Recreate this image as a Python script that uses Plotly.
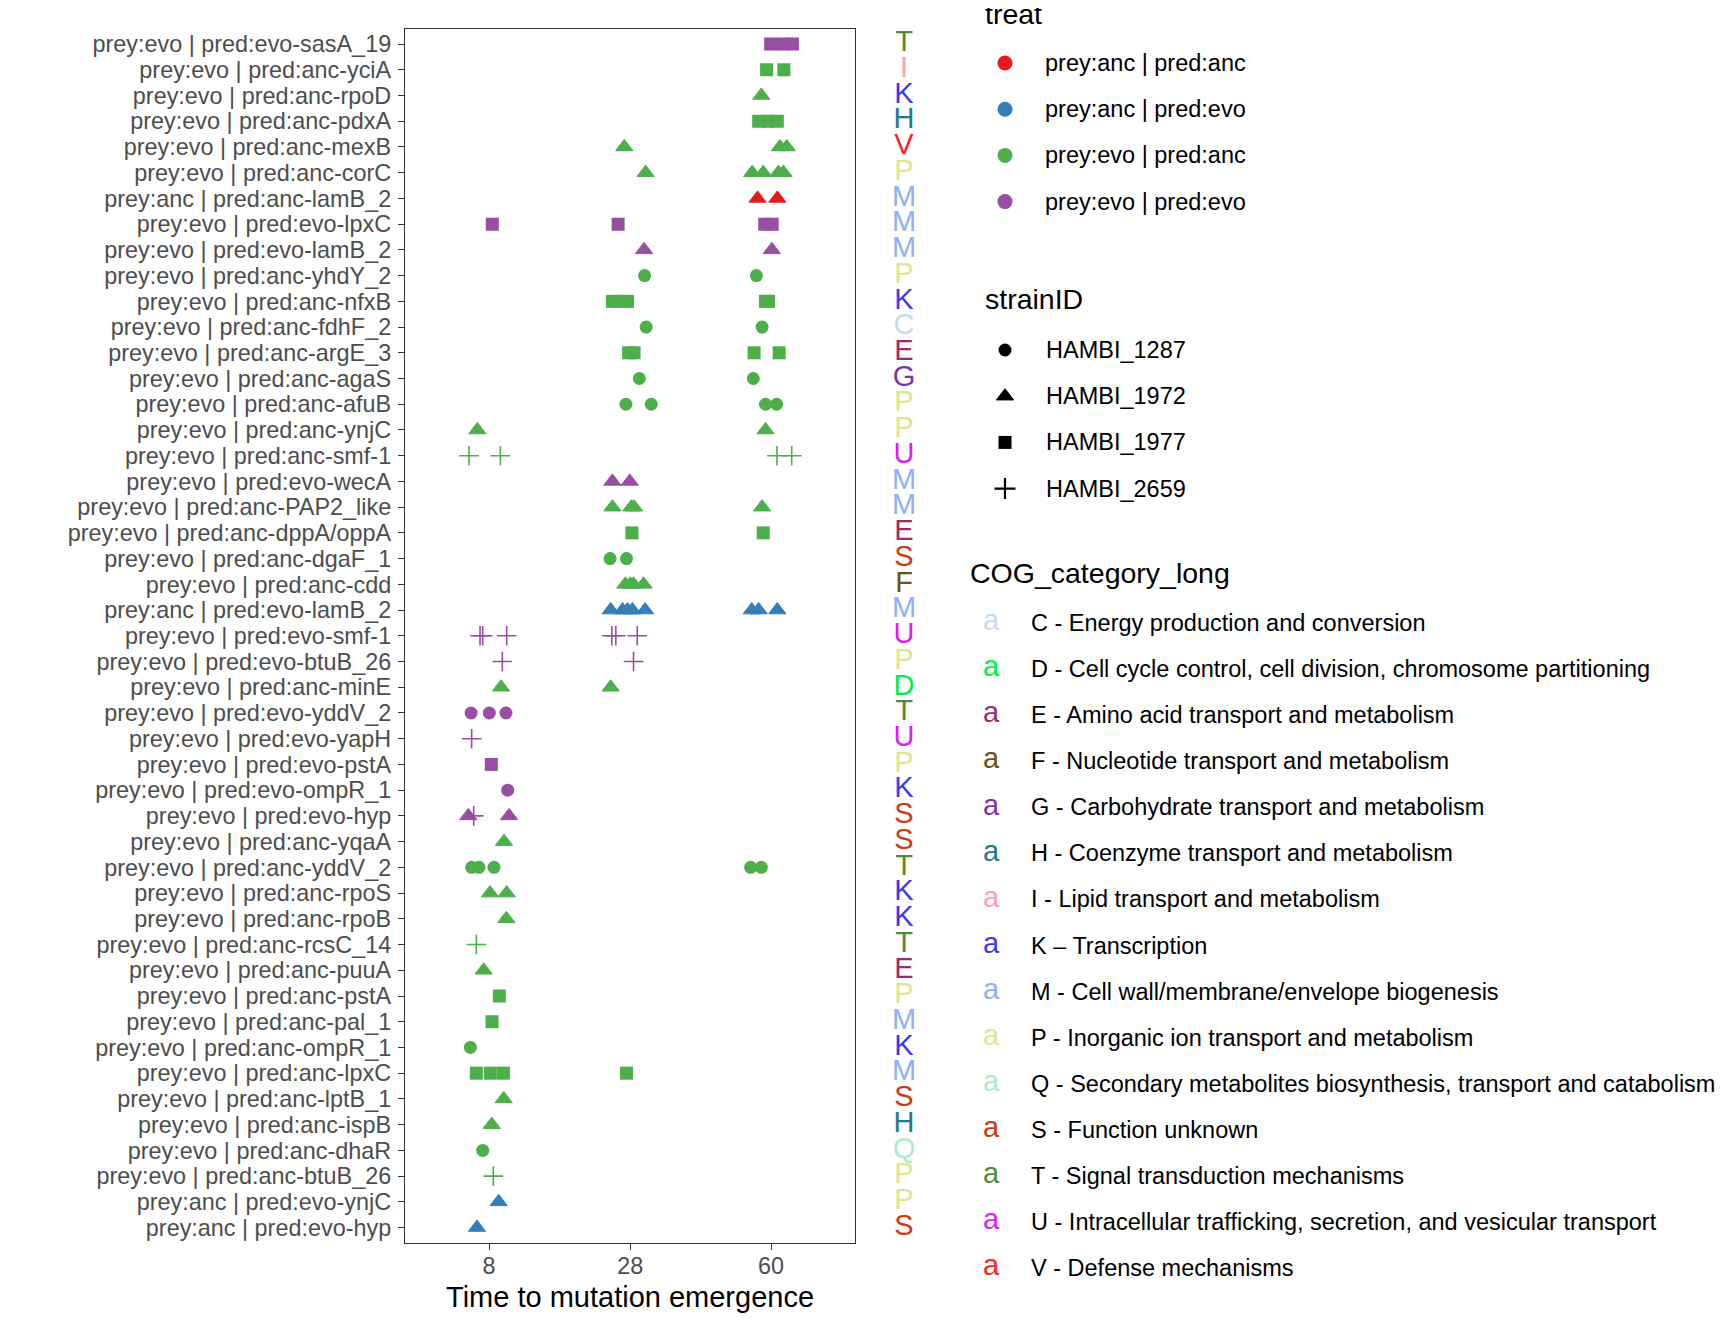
import numpy as np
import plotly.graph_objects as go

# ---------------- data (rows listed top to bottom) ----------------
labels = [
    "prey:evo | pred:evo-sasA_19", "prey:evo | pred:anc-yciA", "prey:evo | pred:anc-rpoD",
    "prey:evo | pred:anc-pdxA", "prey:evo | pred:anc-mexB", "prey:evo | pred:anc-corC",
    "prey:anc | pred:anc-lamB_2", "prey:evo | pred:evo-lpxC", "prey:evo | pred:evo-lamB_2",
    "prey:evo | pred:anc-yhdY_2", "prey:evo | pred:anc-nfxB", "prey:evo | pred:anc-fdhF_2",
    "prey:evo | pred:anc-argE_3", "prey:evo | pred:anc-agaS", "prey:evo | pred:anc-afuB",
    "prey:evo | pred:anc-ynjC", "prey:evo | pred:anc-smf-1", "prey:evo | pred:evo-wecA",
    "prey:evo | pred:anc-PAP2_like", "prey:evo | pred:anc-dppA/oppA", "prey:evo | pred:anc-dgaF_1",
    "prey:evo | pred:anc-cdd", "prey:anc | pred:evo-lamB_2", "prey:evo | pred:evo-smf-1",
    "prey:evo | pred:evo-btuB_26", "prey:evo | pred:anc-minE", "prey:evo | pred:evo-yddV_2",
    "prey:evo | pred:evo-yapH", "prey:evo | pred:evo-pstA", "prey:evo | pred:evo-ompR_1",
    "prey:evo | pred:evo-hyp", "prey:evo | pred:anc-yqaA", "prey:evo | pred:anc-yddV_2",
    "prey:evo | pred:anc-rpoS", "prey:evo | pred:anc-rpoB", "prey:evo | pred:anc-rcsC_14",
    "prey:evo | pred:anc-puuA", "prey:evo | pred:anc-pstA", "prey:evo | pred:anc-pal_1",
    "prey:evo | pred:anc-ompR_1", "prey:evo | pred:anc-lpxC", "prey:evo | pred:anc-lptB_1",
    "prey:evo | pred:anc-ispB", "prey:evo | pred:anc-dhaR", "prey:evo | pred:anc-btuB_26",
    "prey:anc | pred:evo-ynjC", "prey:anc | pred:evo-hyp",
]

cog = ["T", "I", "K", "H", "V", "P", "M", "M", "M", "P",
       "K", "C", "E", "G", "P", "P", "U", "M", "M", "E",
       "S", "F", "M", "U", "P", "D", "T", "U", "P", "K",
       "S", "S", "T", "K", "K", "T", "E", "P", "M", "K",
       "M", "S", "H", "Q", "P", "P", "S"]

# time to mutation emergence (jittered positions)
emergence_time = [
    [59.9, 62.9, 65.9], [58.8, 63.5], [57.4], [56.7, 59.2, 61.7], [26.9, 62.4, 64.3],
    [30.9, 55.0, 57.9, 62.0, 63.4], [56.4, 61.7], [8.33, 25.8, 58.3, 60.3], [30.6, 60.2],
    [30.7, 56.1], [24.8, 26.1, 27.5, 58.5, 59.3], [31.0, 57.6], [27.7, 28.7, 55.5, 62.2],
    [29.7, 55.3], [27.2, 32.0, 58.5, 61.5], [6.89, 58.5], [6.15, 9.16, 61.6, 65.7],
    [24.8, 27.9], [24.8, 28.2, 28.7, 57.6], [28.3, 57.9], [24.4, 27.3],
    [27.1, 28.0, 28.6, 30.5], [24.5, 26.6, 27.5, 28.4, 30.8, 54.9, 56.7, 61.7],
    [7.14, 7.39, 9.84, 24.7, 25.4, 29.3], [9.37, 28.6], [9.23, 24.5], [6.33, 8.03, 9.76],
    [6.38], [8.23], [9.95], [6.09, 6.56, 10.1], [9.55], [6.38, 7.04, 8.50, 54.6, 57.4],
    [8.10, 9.84], [9.80], [6.80], [7.48], [9.05], [8.30], [6.27], [6.80, 8.13, 9.48, 27.3],
    [9.51], [8.27], [7.39], [8.43], [8.98], [6.86],
]

A, B, C, D = "HAMBI_1287", "HAMBI_1972", "HAMBI_1977", "HAMBI_2659"
strain_ids = [
    [C, C, C], [C, C], [B], [C, C, C], [B, B, B],
    [B, B, B, B, B], [B, B], [C, C, C, C], [B, B],
    [A, A], [C, C, C, C, C], [A, A], [C, C, C, C],
    [A, A], [A, A, A, A], [B, B], [D, D, D, D],
    [B, B], [B, B, B, B], [C, C], [A, A],
    [B, B, B, B], [B, B, B, B, B, B, B, B],
    [D, D, D, D, D, D], [D, D], [B, B], [A, A, A],
    [D], [C], [A], [B, D, B], [B], [A, A, A, A, A],
    [B, B], [B], [D], [B], [C], [C], [A], [C, C, C, C],
    [B], [B], [A], [D], [B], [B],
]

treat_names = ["prey:anc | pred:anc", "prey:anc | pred:evo", "prey:evo | pred:anc", "prey:evo | pred:evo"]
treat_colors = ["#E41A1C", "#377EB8", "#4DAF4A", "#984EA3"]
strain_names = [A, B, C, D]

cog_names = [
    "C - Energy production and conversion",
    "D - Cell cycle control, cell division, chromosome partitioning",
    "E - Amino acid transport and metabolism",
    "F - Nucleotide transport and metabolism",
    "G - Carbohydrate transport and metabolism",
    "H - Coenzyme transport and metabolism",
    "I - Lipid transport and metabolism",
    "K \u2013 Transcription",
    "M - Cell wall/membrane/envelope biogenesis",
    "P - Inorganic ion transport and metabolism",
    "Q - Secondary metabolites biosynthesis, transport and catabolism",
    "S - Function unknown",
    "T - Signal transduction mechanisms",
    "U - Intracellular trafficking, secretion, and vesicular transport",
    "V - Defense mechanisms",
]
cog_colors = ["#C6DBEF", "#00F03C", "#9C2A6E", "#6B5315", "#7B35A8", "#1B7A8C", "#FF9EB0",
              "#3A3AF5", "#8DB0F7", "#DCE68F", "#AEEBC8", "#CF3A16", "#4F8A3C", "#E01BF5", "#FF1F26"]

x_ticks = [8, 28, 60]

# ---------------- styling / layout constants ----------------
OFF = 8                      # page body margin offset
W, H = 1728 - OFF, 1344 - OFF
PL, PR, PT, PB = 405, 855, 28.6, 1243   # panel edges in page pixels
FONT = "Liberation Sans"
AXC = "#333333"
TXC = "#4D4D4D"
symbols = {A: ("circle", 13, 0), B: ("triangle-up", 15, 1), C: ("square", 13, 0), D: ("cross-thin", 14, 1.6)}
cog_color_of = {n[0]: c for n, c in zip(cog_names, cog_colors)}

fig = go.Figure()

def treat_of(lab):
    return lab.split("-", 1)[0]

for tr, col in zip(treat_names, treat_colors):
    for st in strain_names:
        xs, ys = [], []
        for lab, ts, ss in zip(labels, emergence_time, strain_ids):
            if treat_of(lab) != tr:
                continue
            for t, s in zip(ts, ss):
                if s == st:
                    xs.append(np.sqrt(t))
                    ys.append(lab)
        if not xs:
            continue
        sym, size, lw = symbols[st]
        fig.add_trace(go.Scatter(
            x=xs, y=ys, mode="markers", xaxis="x", yaxis="y",
            marker=dict(symbol=sym, size=size, color=col, line=dict(color=col, width=lw)),
            hoverinfo="skip"))

# COG letter column
fig.add_trace(go.Scatter(
    x=[0.5] * len(labels), y=labels, mode="text", text=cog, xaxis="x3", yaxis="y3",
    textposition="middle center",
    textfont=dict(family=FONT, size=29, color=[cog_color_of[c] for c in cog]),
    hoverinfo="skip"))

# ---------------- manual legends (page pixel coordinates) ----------------
annotations = []
def ann(x, y, text, size, color="black", xanchor="left"):
    annotations.append(dict(x=x, y=y, xref="x2", yref="y2", text=text, showarrow=False,
                            xanchor=xanchor, yanchor="middle",
                            font=dict(family=FONT, size=size, color=color)))

STEP = 46.2
TITLE_X = 983
# treat
ann(TITLE_X, 14, "treat", 28.5)
ty = [63 + i * STEP for i in range(len(treat_names))]
fig.add_trace(go.Scatter(x=[1005] * len(ty), y=ty, mode="markers", xaxis="x2", yaxis="y2",
                         marker=dict(symbol="circle", size=15, color=treat_colors), hoverinfo="skip"))
for y, n in zip(ty, treat_names):
    ann(1043, y, n, 23.5)
# strainID
ann(TITLE_X, 299, "strainID", 28.5)
sy = [350 + i * STEP for i in range(len(strain_names))]
leg_sym = {A: ("circle", 13, 0), B: ("triangle-up", 15, 1), C: ("square", 13, 0), D: ("cross-thin", 15, 2.2)}
for y, n in zip(sy, strain_names):
    s, sz, lw = leg_sym[n]
    fig.add_trace(go.Scatter(x=[1005], y=[y], mode="markers", xaxis="x2", yaxis="y2",
                             marker=dict(symbol=s, size=sz, color="black", line=dict(color="black", width=lw)),
                             hoverinfo="skip"))
    ann(1044, y, n, 23.5)
# COG_category_long
ann(968, 573, "COG_category_long", 28.5)
cy = [623 + i * 46.08 for i in range(len(cog_names))]
fig.add_trace(go.Scatter(x=[991] * len(cy), y=cy, mode="text", text=["a"] * len(cy), xaxis="x2", yaxis="y2",
                         textposition="middle center",
                         textfont=dict(family=FONT, size=29, color=cog_colors), hoverinfo="skip"))
for y, n in zip(cy, cog_names):
    ann(1029, y, n, 23.5)

# x-axis title
ann((PL + PR) / 2, 1297, "Time to mutation emergence", 29, xanchor="center")

axis_common = dict(showline=True, mirror=True, linecolor=AXC, linewidth=1.3,
                   ticks="outside", ticklen=6, tickwidth=1.3, tickcolor=AXC,
                   tickfont=dict(family=FONT, size=23.4, color=TXC),
                   showgrid=False, zeroline=False, automargin=False)

ydom = [1 - (PB - OFF) / H, 1 - (PT - OFF) / H]
fig.update_layout(
    width=W, height=H, margin=dict(l=0, r=0, t=0, b=0),
    paper_bgcolor="white", plot_bgcolor="rgba(0,0,0,0)",
    showlegend=False, font=dict(family=FONT),
    xaxis=dict(domain=[(PL - OFF) / W, (PR - OFF) / W], range=[1.364, 9.209],
               tickmode="array", tickvals=[np.sqrt(v) for v in x_ticks], ticktext=[str(v) for v in x_ticks],
               ticklabelstandoff=-4, anchor="y", **axis_common),
    yaxis=dict(domain=ydom, type="category", categoryorder="array",
               categoryarray=labels[::-1], tickmode="array", tickvals=labels, ticktext=labels,
               range=[-0.6, len(labels) - 0.4], ticklabelstandoff=2, anchor="x",
               **axis_common),
    xaxis3=dict(domain=[(894 - OFF) / W, (914 - OFF) / W], range=[0, 1], visible=False, anchor="y3"),
    yaxis3=dict(domain=ydom, type="category", categoryorder="array",
                categoryarray=labels[::-1], range=[-0.6, len(labels) - 0.4], visible=False, anchor="x3"),
    xaxis2=dict(domain=[0, 1], range=[OFF, OFF + W], visible=False, anchor="y2"),
    yaxis2=dict(domain=[0, 1], range=[OFF + H, OFF], visible=False, anchor="x2"),
    annotations=annotations,
)

fig.write_html("out.html")
